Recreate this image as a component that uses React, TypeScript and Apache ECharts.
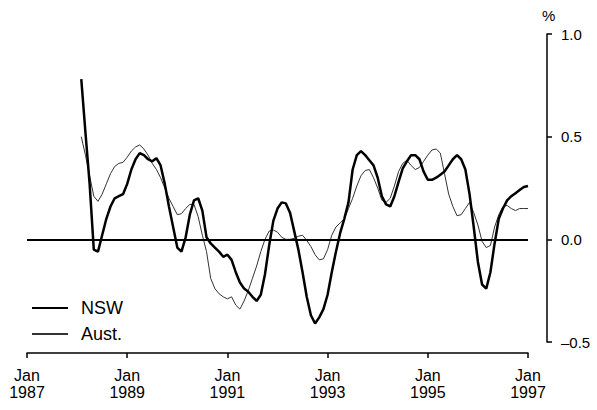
import React, { useEffect, useRef } from "react";
import * as echarts from "echarts";

// months counted from Jan 1987 (0)
const startMonth = 13; // Feb 1988
const xTickLabels = ["Jan\n1987", "Jan\n1989", "Jan\n1991", "Jan\n1993", "Jan\n1995", "Jan\n1997"];
const yTicks = [-0.5, 0, 0.5, 1.0];
const seriesNames = ["NSW", "Aust."];

const nswValues = [
  0.78, 0.52, 0.27, -0.05, -0.06, 0.02, 0.10, 0.16, 0.20, 0.21,
  0.22, 0.27, 0.34, 0.39, 0.42, 0.41, 0.39, 0.38, 0.395, 0.36,
  0.27, 0.16, 0.06, -0.04, -0.06, 0.01, 0.12, 0.19, 0.20, 0.14,
  0.01, -0.02, -0.04, -0.06, -0.085, -0.075, -0.10, -0.16, -0.21, -0.24,
  -0.255, -0.28, -0.30, -0.27, -0.17, -0.03, 0.09, 0.15, 0.18, 0.175,
  0.13, 0.04, -0.05, -0.16, -0.28, -0.37, -0.41, -0.38, -0.34, -0.27,
  -0.16, -0.06, 0.03, 0.10, 0.18, 0.34, 0.41, 0.43, 0.41, 0.385,
  0.36, 0.30, 0.21, 0.17, 0.16, 0.21, 0.28, 0.345, 0.38, 0.41,
  0.41, 0.39, 0.33, 0.29, 0.29, 0.30, 0.315, 0.33, 0.36, 0.39,
  0.41, 0.39, 0.34, 0.22, 0.06, -0.11, -0.22, -0.24, -0.16, -0.02,
  0.10, 0.15, 0.19, 0.21, 0.225, 0.24, 0.255, 0.26,
];

const austValues = [
  0.50, 0.41, 0.31, 0.21, 0.185, 0.22, 0.27, 0.32, 0.355, 0.37,
  0.375, 0.40, 0.43, 0.45, 0.46, 0.44, 0.41, 0.37, 0.34, 0.30,
  0.25, 0.20, 0.16, 0.12, 0.125, 0.15, 0.17, 0.17, 0.11, 0.02,
  -0.06, -0.19, -0.24, -0.265, -0.28, -0.29, -0.28, -0.32, -0.34, -0.30,
  -0.25, -0.19, -0.13, -0.06, 0.00, 0.04, 0.045, 0.035, 0.01, 0.0,
  0.0, 0.005, 0.015, 0.02, -0.005, -0.035, -0.075, -0.10, -0.095, -0.05,
  0.02, 0.06, 0.08, 0.10, 0.15, 0.20, 0.26, 0.31, 0.335, 0.34,
  0.30, 0.25, 0.19, 0.18, 0.20, 0.26, 0.33, 0.37, 0.385, 0.36,
  0.34, 0.35, 0.38, 0.41, 0.435, 0.44, 0.42, 0.32, 0.22, 0.16,
  0.115, 0.12, 0.15, 0.18, 0.13, 0.07, -0.01, -0.04, -0.03, 0.06,
  0.12, 0.16, 0.165, 0.15, 0.14, 0.15, 0.15, 0.15,
];

const toPairs = (vals: number[]) => vals.map((v, i) => [startMonth + i, v]);

export default function App() {
  const ref = useRef<HTMLDivElement>(null);
  useEffect(() => {
    document.body.style.margin = "0";
    if (!ref.current) return;
    const chart = echarts.init(ref.current, null, { renderer: "svg" });
    const font = "'Liberation Sans', Arial, Helvetica, sans-serif";
    chart.setOption({
      animation: false,
      backgroundColor: "#fff",
      textStyle: { fontFamily: font, color: "#000" },
      grid: { left: 27, right: 69, top: 34, bottom: 68, containLabel: false, outerBoundsMode: "none" },
      legend: {
        left: 26,
        top: 294,
        orient: "vertical",
        itemWidth: 36,
        itemHeight: 14,
        itemGap: 8,
        itemStyle: { opacity: 0 },
        textStyle: { fontSize: 18, color: "#000", padding: [0, 0, 0, 8], fontFamily: font },
        data: seriesNames,
      },
      xAxis: {
        type: "value",
        min: 0,
        max: 120,
        interval: 24,
        position: "bottom",
        offset: 11,
        splitLine: { show: false },
        axisLine: { show: true, onZero: false, lineStyle: { color: "#000", width: 1.5 } },
        axisTick: { show: true, inside: false, length: 5, lineStyle: { color: "#000", width: 1.5 } },
        axisLabel: {
          margin: 14,
          fontSize: 16,
          lineHeight: 17,
          color: "#000",
          fontFamily: font,
          formatter: (v: number) => xTickLabels[Math.round(v / 24)] ?? "",
        },
      },
      yAxis: {
        type: "value",
        position: "right",
        offset: 19,
        min: yTicks[0],
        max: yTicks[yTicks.length - 1],
        interval: 0.5,
        splitLine: { show: false },
        axisLine: { show: true, onZero: false, lineStyle: { color: "#000", width: 1.5 } },
        axisTick: { show: true, inside: false, length: 5, lineStyle: { color: "#000", width: 1.5 } },
        axisLabel: {
          margin: 14,
          fontSize: 15,
          color: "#000",
          fontFamily: font,
          align: "left",
          formatter: (v: number) => v.toFixed(1).replace("-", "\u2013"),
        },
      },
      graphic: [
        {
          type: "text",
          left: 542,
          top: 8,
          style: { text: "%", fontSize: 15, fill: "#000", fontFamily: font },
        },
      ],
      series: [
        {
          name: seriesNames[0],
          type: "line",
          data: toPairs(nswValues),
          symbol: "none",
          showSymbol: false,
          lineStyle: { color: "#000", width: 2.5 },
          itemStyle: { color: "#000" },
          z: 3,
          markLine: {
            silent: true,
            symbol: "none",
            label: { show: false },
            lineStyle: { color: "#000", width: 2, type: "solid" },
            data: [{ yAxis: 0 }],
          },
        },
        {
          name: seriesNames[1],
          type: "line",
          data: toPairs(austValues),
          symbol: "none",
          showSymbol: false,
          lineStyle: { color: "#333", width: 1 },
          itemStyle: { color: "#333" },
          z: 2,
        },
      ],
    });
    return () => chart.dispose();
  }, []);
  return <div ref={ref} style={{ width: 597, height: 410 }} />;
}
